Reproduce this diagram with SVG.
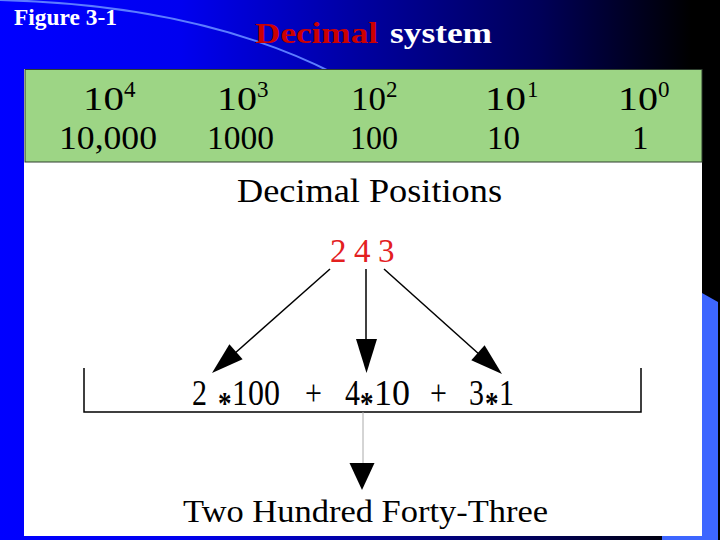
<svg xmlns="http://www.w3.org/2000/svg" width="720" height="540" viewBox="0 0 720 540">
<defs>
<linearGradient id="bg" x1="0" y1="0" x2="1" y2="0">
<stop offset="0" stop-color="#0000ff"/>
<stop offset="0.25" stop-color="#0000f0"/>
<stop offset="0.5" stop-color="#0000a0"/>
<stop offset="0.75" stop-color="#000058"/>
<stop offset="0.96" stop-color="#000000"/>
</linearGradient>
<style>
.s{font-family:"Liberation Serif","Times New Roman",serif;}
.t{font-family:"Liberation Serif","Times New Roman",serif;font-weight:bold;}
.k{fill:#000;}
.r{fill:#e3201f;}
.ln{stroke:#000;stroke-width:1.5;fill:none;}
.hd{fill:#000;stroke:none;}
.sup{font-size:23px;}
.ast{font-size:27px;font-weight:bold;}
</style>
</defs>
<rect x="0" y="0" width="720" height="540" fill="url(#bg)"/>
<path d="M0,0 Q200,5 335,74" fill="none" stroke="#5c7cff" stroke-width="2"/>
<polygon points="702,293 718,302 718,540 662,540 662,536 702,536" fill="#3d66ff"/>
<g id="title">
<text class="t" x="14" y="25" font-size="23" fill="#fff" textLength="103" lengthAdjust="spacingAndGlyphs">Figure 3-1</text>
<text class="t" x="255" y="43" font-size="29" fill="#cc0000" textLength="123" lengthAdjust="spacingAndGlyphs">Decimal</text>
<text class="t" x="390" y="43" font-size="29" fill="#fff" textLength="102" lengthAdjust="spacingAndGlyphs">system</text>
</g>
<rect x="24" y="69" width="678" height="467" fill="#fff"/>
<g id="positions">
<rect x="25" y="69.5" width="677" height="92.5" fill="#9dd585" stroke="#2e3f2e" stroke-width="1"/>
<g class="s k" font-size="33">
<text x="83" y="109.5" textLength="41" lengthAdjust="spacingAndGlyphs">10</text>
<text class="sup" x="124" y="97">4</text>
<text x="217" y="109.5" textLength="40" lengthAdjust="spacingAndGlyphs">10</text>
<text class="sup" x="257" y="97">3</text>
<text x="351" y="109.5" textLength="35" lengthAdjust="spacingAndGlyphs">10</text>
<text class="sup" x="386" y="97">2</text>
<text x="485" y="109.5" textLength="41" lengthAdjust="spacingAndGlyphs">10</text>
<text class="sup" x="527" y="97">1</text>
<text x="618" y="109.5" textLength="40" lengthAdjust="spacingAndGlyphs">10</text>
<text class="sup" x="658" y="97">0</text>
<text x="59" y="149" textLength="98" lengthAdjust="spacingAndGlyphs">10,000</text>
<text x="207" y="149" textLength="67" lengthAdjust="spacingAndGlyphs">1000</text>
<text x="350" y="149" textLength="48" lengthAdjust="spacingAndGlyphs">100</text>
<text x="487" y="149" textLength="33" lengthAdjust="spacingAndGlyphs">10</text>
<text x="632" y="149">1</text>
</g>
</g>
<g id="label">
<text class="s k" x="237" y="202" font-size="33" textLength="265" lengthAdjust="spacingAndGlyphs">Decimal Positions</text>
</g>
<g id="number" class="s r" font-size="33">
<text x="330" y="262">2</text>
<text x="354" y="262">4</text>
<text x="378" y="262">3</text>
</g>
<g id="expression" class="s k">
<polyline class="ln" points="84,368 84,412 641,412 641,368"/>
<g transform="translate(0,405) scale(1,1.2)" font-size="30">
<text y="0"><tspan x="192">2</tspan><tspan class="ast" x="218" dy="7.5">*</tspan><tspan x="232" dy="-7.5" textLength="48" lengthAdjust="spacingAndGlyphs">100</tspan></text>
<text x="305" y="0">+</text>
<text y="0"><tspan x="345">4</tspan><tspan class="ast" x="360" dy="7.5">*</tspan><tspan x="374" dy="-7.5" textLength="36" lengthAdjust="spacingAndGlyphs">10</tspan></text>
<text x="430" y="0">+</text>
<text y="0"><tspan x="469">3</tspan><tspan class="ast" x="485" dy="7.5">*</tspan><tspan x="499" dy="-7.5">1</tspan></text>
</g>
</g>
<g id="result">
<text class="s k" x="183" y="522" font-size="31" textLength="365" lengthAdjust="spacingAndGlyphs">Two Hundred Forty-Three</text>
</g>
<g id="connectors">
<line class="ln" x1="330" y1="269" x2="234" y2="354"/>
<polygon class="hd" points="212,373 229.4,344.3 242.6,359.3"/>
<line class="ln" x1="366" y1="269" x2="366" y2="342"/>
<polygon class="hd" points="366.5,373 356,339 377,339"/>
<line class="ln" x1="384" y1="269" x2="480" y2="355"/>
<polygon class="hd" points="502,374 484.6,345.2 471.3,360.2"/>
<line x1="363" y1="412" x2="363" y2="465" stroke="#aaaaaa" stroke-width="1"/>
<polygon class="hd" points="349.5,463 374.5,463 362,490"/>
</g>
</svg>
